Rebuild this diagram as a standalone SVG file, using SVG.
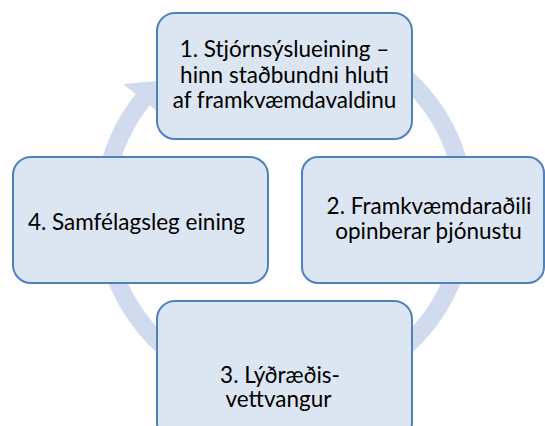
<svg xmlns="http://www.w3.org/2000/svg" width="545" height="426" viewBox="0 0 545 426">
  <style>
    .box { fill: #dce6f2; stroke: #4f81bd; stroke-width: 2; }
    .lbl { font-family: Lato, "Liberation Sans", sans-serif; font-size: 22.5px; fill: #000; text-anchor: middle; }
    .ring { fill: none; stroke: #d0dcee; stroke-width: 18; }
    .head { fill: #d0dcee; }
  </style>
  <rect width="545" height="426" fill="#fff"/>
  <g id="connectors">
    <path class="ring" d="M 346.4 41.9 A 181 181 0 1 1 143 99.1"/>
    <polygon class="head" points="123,84 168,80 158,112"/>
  </g>
  <g id="node1">
    <rect class="box" x="157" y="13" width="255" height="126" rx="18"/>
    <text class="lbl" x="284.5" y="57.3">1. Stjórnsýslueining –</text>
    <text class="lbl" x="284.5" y="82.8">hinn staðbundni hluti</text>
    <text class="lbl" x="284.5" y="108.3">af framkvæmdavaldinu</text>
  </g>
  <g id="node2">
    <rect class="box" x="302" y="157" width="242" height="126" rx="16"/>
    <text class="lbl" x="429" y="214">2. Framkvæmdaraðili</text>
    <text class="lbl" x="428.5" y="238.5">opinberar þjónustu</text>
  </g>
  <g id="node3">
    <rect class="box" x="157" y="301" width="255" height="140" rx="18"/>
    <text class="lbl" x="280" y="382.7">3. Lýðræðis-</text>
    <text class="lbl" x="278.5" y="407.3">vettvangur</text>
  </g>
  <g id="node4">
    <rect class="box" x="13" y="157" width="255" height="126" rx="18"/>
    <text class="lbl" x="136.5" y="230">4. Samfélagsleg eining</text>
  </g>
</svg>
